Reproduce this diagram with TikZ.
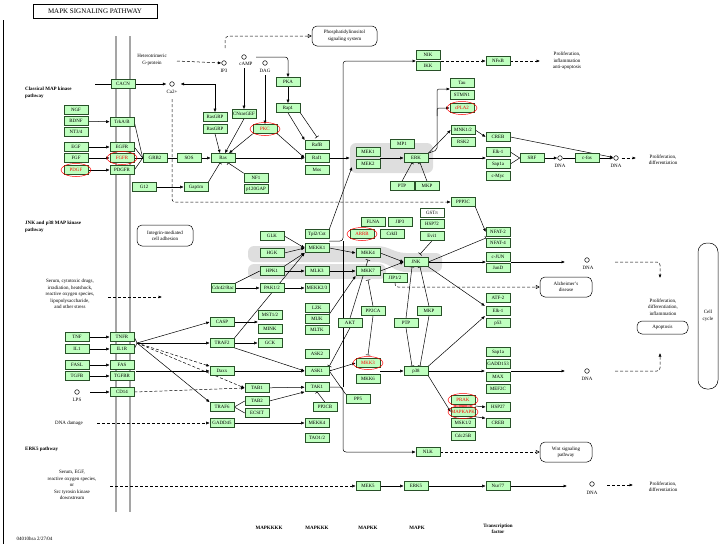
\documentclass[tikz,border=0pt]{standalone}
\usepackage{fontspec}
\setmainfont{Liberation Serif}
\usetikzlibrary{arrows.meta,calc}
\pgfdeclarelayer{bands}
\pgfdeclarelayer{edges}
\pgfsetlayers{bands,edges,main}
\definecolor{kgreen}{RGB}{191,255,191}
\definecolor{kborder}{RGB}{40,80,40}
\definecolor{bandgray}{RGB}{222,222,222}
\definecolor{memgray}{RGB}{165,165,165}
\newcommand\gf{\fontsize{4.9}{5.2}\selectfont}
\newcommand\tf{\fontsize{5}{6.4}\selectfont}
\tikzset{
  gene/.style={draw=kborder, fill=kgreen, line width=0.6pt, minimum width=24pt, minimum height=9pt, inner sep=0pt, font=\gf},
  rgene/.style={gene, text=red},
  wgene/.style={gene, fill=white},
  mol/.style={circle, draw, line width=0.5pt, minimum size=4.6pt, inner sep=0pt},
  txt/.style={font=\tf, align=center, inner sep=0.5pt},
  btxt/.style={font=\tf\bfseries, align=left, inner sep=0pt},
  rbox/.style={draw, line width=0.5pt, rounded corners=5pt, font=\tf, align=center, inner sep=0pt},
  redell/.style={draw=red, line width=0.5pt},
  edge/.style={line width=0.5pt},
  ar/.style={edge, -{Latex[length=3.5pt,width=3pt]}},
  inh/.style={edge, -{Bar[width=4.5pt]}},
  dln/.style={edge, dash pattern=on 3pt off 2pt},
  dar/.style={ar, dash pattern=on 3pt off 2pt},
  oar/.style={edge, dash pattern=on 3pt off 2pt, -{Triangle[open,length=4pt,width=4pt]}},
}
\newcommand\kgn[4][gene]{\node[#1] (#2) at (#3) {#4};}
\begin{document}
\begin{tikzpicture}[x=1pt,y=-1pt]
\useasboundingbox (0,0) rectangle (721,544);
% ---------- frame, title ----------
\draw[line width=0.6pt] (3,20) -- (3,544);
\node[draw, line width=0.7pt, minimum width=124pt, minimum height=14pt, inner sep=0pt, font=\fontsize{7}{8}\selectfont] (title) at (95,11) {MAPK SIGNALING PATHWAY};
% ---------- text labels ----------
\node[btxt, anchor=north west] (lclass) at (25,87) {Classical MAP kinase\\pathway};
\node[btxt, anchor=north west] (ljnk) at (25,221) {JNK and p38 MAP kinase\\pathway};
\node[btxt, anchor=west] (lerk5) at (25,449) {ERK5 pathway};
\node[txt] (hetg) at (152,60) {Heterotrimeric\\G-protein};
\node[txt] (stress) at (70,294) {Serum, cytotoxic drugs,\\irradiation, heatshock,\\reactive oxygen species,\\lipopolysaccharide,\\and other stress};
\node[txt] (serum) at (72,485) {Serum, EGF,\\reactive oxygen species,\\or\\Src tyrosin kinase\\downstream};
\node[txt] (dnadam) at (69,423) {DNA damage};
\node[txt] (prolif0) at (567,61) {Proliferation,\\inflammation\\anti-apoptosis};
\node[txt] (prolif1) at (663,160) {Proliferation,\\differentiation};
\node[txt] (prolif2) at (663,307) {Proliferation,\\differentiation,\\inflammation};
\node[txt] (prolif3) at (663,487) {Proliferation,\\differentiation};
\node[btxt] (lm4) at (269,528) {MAPKKKK};
\node[btxt] (lm3) at (317,528) {MAPKKK};
\node[btxt] (lm2) at (368,528) {MAPKK};
\node[btxt] (lm1) at (417,528) {MAPK};
\node[btxt, align=center] (ltf) at (498,529) {Transcription\\factor};
\node[txt, anchor=west] (mapid) at (16,539) {04010hsa 2/27/04};
% ---------- rounded boxes ----------
\node[rbox, minimum width=65pt, minimum height=20pt] (pis) at (344.5,36) {Phosphatidylinositol\\signaling system};
\node[rbox, minimum width=56pt, minimum height=21pt] (integ) at (165,235.5) {Integrin-mediated\\cell adhesion};
\node[rbox, minimum width=52pt, minimum height=20pt] (alz) at (566,287) {Alzheimer's\\disease};
\node[rbox, minimum width=52pt, minimum height=20pt] (wnt) at (566,452) {Wnt signaling\\pathway};
\node[rbox, minimum width=51pt, minimum height=13pt] (apop) at (662.5,327.5) {Apoptosis};
\node[rbox, rounded corners=9pt, minimum width=20pt, minimum height=146pt] (ccyc) at (708,316) {Cell\\cycle};
% ---------- small molecules ----------
\node[mol] (ip3) at (224,63) {};   \node[txt] (ip3l) at (224,71) {IP3};
\node[mol] (camp) at (244,57) {};  \node[txt] (campl) at (246,64) {cAMP};
\node[mol] (dag) at (265,63) {};   \node[txt] (dagl) at (265,71) {DAG};
\node[mol] (ca) at (172,84) {};    \node[txt] (cal) at (172,92) {Ca2+};
\node[mol] (lps) at (77,392) {};   \node[txt] (lpsl) at (77,400) {LPS};
\node[mol] (dna1) at (560,158) {}; \node[txt] (dna1l) at (560,166) {DNA};
\node[mol] (dna2) at (616,158) {}; \node[txt] (dna2l) at (616,166) {DNA};
\node[mol] (dna3) at (587,260) {}; \node[txt] (dna3l) at (588,268) {DNA};
\node[mol] (dna4) at (587,371) {}; \node[txt] (dna4l) at (587,379) {DNA};
\node[mol] (dna5) at (592,484) {}; \node[txt] (dna5l) at (592,493) {DNA};
% ---------- genes ----------
\kgn{cacn}{123,84}{CACN}
\kgn{ngf}{76,110}{NGF}
\kgn{bdnf}{76,121}{BDNF}
\kgn{nt34}{76,132}{NT3/4}
\kgn{egf}{76,147}{EGF}
\kgn{fgf}{76,158}{FGF}
\kgn[rgene]{pdgf}{76,170}{PDGF}
\kgn{trkab}{122,122}{TrkA/B}
\kgn{egfr}{122,147}{EGFR}
\kgn[rgene]{fgfr}{122,158}{FGFR}
\kgn{pdgfr}{122,170}{PDGFR}
\kgn{grb2}{155,158}{GRB2}
\kgn{sos}{189,158}{SOS}
\kgn{ras}{223,158}{Ras}
\kgn{g12}{144,187}{G12}
\kgn{gap1m}{196,187}{Gap1m}
\kgn{nf1}{256,178}{NF1}
\kgn{p120}{256,189}{p120GAP}
\kgn{rasgrp1}{215,117}{RasGRP}
\kgn{rasgrp2}{215,129}{RasGRP}
\kgn{cnras}{244,114}{CNrasGEF}
\kgn[rgene]{pkc}{265,129}{PKC}
\kgn{pka}{288,82}{PKA}
\kgn{rap1}{288,108}{Rap1}
\kgn{rafb}{317,145}{RafB}
\kgn{raf1}{317,158}{Raf1}
\kgn{mos}{317,170}{Mos}
\kgn{mek1}{368,152}{MEK1}
\kgn{mek2}{368,164}{MEK2}
\kgn{mp1}{402,144}{MP1}
\kgn{erk}{416,158}{ERK}
\kgn{ptpa}{402,186}{PTP}
\kgn{mkpa}{427,186}{MKP}
\kgn{tau}{462,83}{Tau}
\kgn{stmn1}{462,95}{STMN1}
\kgn[rgene]{cpla2}{462,108}{cPLA2}
\kgn{mnk}{463,130}{MNK1/2}
\kgn{rsk2}{463,142}{RSK2}
\kgn{creba}{498,137}{CREB}
\kgn{elka}{498,152}{Elk-1}
\kgn{sapa}{498,164}{Sap1a}
\kgn{cmyc}{498,176}{c-Myc}
\kgn{srf}{532,158}{SRF}
\kgn{cfos}{587,158}{c-fos}
\kgn{nik}{428,55}{NIK}
\kgn{ikk}{428,66}{IKK}
\kgn{nfkb}{498,61}{NFκB}
\kgn{ppp3c}{463,202}{PPP3C}
% JNK / p38
\kgn{cdc42}{223,288}{Cdc42/Rac}
\kgn{glk}{272,236}{GLK}
\kgn{hgk}{272,253}{HGK}
\kgn{hpk1}{272,271}{HPK1}
\kgn{pak}{272,288}{PAK1/2}
\kgn{mst}{270,315}{MST1/2}
\kgn{mink}{270,329}{MINK}
\kgn{gck}{270,343}{GCK}
\kgn{tpl2}{317,234}{Tpl2/Cot}
\kgn{mekk1}{317,248}{MEKK1}
\kgn{mlk3}{317,271}{MLK3}
\kgn{mekk23}{317,288}{MEKK2/3}
\kgn{lzk}{317,308}{LZK}
\kgn{muk}{317,319}{MUK}
\kgn{mltk}{317,330}{MLTK}
\kgn{ask2}{317,354}{ASK2}
\kgn{ask1}{317,371}{ASK1}
\kgn{tak1}{317,387}{TAK1}
\kgn{pp2cb}{325,407}{PP2CB}
\kgn{mekk4}{317,423}{MEKK4}
\kgn{tao}{317,438}{TAO1/2}
\kgn{akt}{350,323}{AKT}
\kgn{pp2ca}{373,311}{PP2CA}
\kgn{flna}{373,222}{FLNA}
\kgn{jip3}{400,222}{JIP3}
\kgn[rgene]{arrb}{362,234}{ARRB}
\kgn{crkii}{392,234}{CrkII}
\kgn[wgene]{gstp}{432,213}{GSTπ}
\kgn{hsp72}{432,224}{HSP72}
\kgn{evi1}{432,236}{Evi1}
\kgn{mkk4}{368,253}{MKK4}
\kgn{mkk7}{368,271}{MKK7}
\kgn{jnk}{416,262}{JNK}
\kgn{jip12}{395,278}{JIP1/2}
\kgn{ptpb}{406,323}{PTP}
\kgn{mkpb}{429,311}{MKP}
\kgn[rgene]{mkk3}{368,363}{MKK3}
\kgn{mkk6}{368,379}{MKK6}
\kgn{p38}{416,371}{p38}
\kgn{pp5}{358,399}{PP5}
\kgn[rgene]{prak}{463,400}{PRAK}
\kgn[rgene]{mapkapk}{463,412}{MAPKAPK}
\kgn{msk}{463,423}{MSK1/2}
\kgn{cdc25b}{463,436}{Cdc25B}
\kgn{hsp27}{498,407}{HSP27}
\kgn{crebb}{498,423}{CREB}
\kgn{nlk}{428,452}{NLK}
\kgn{nfat2}{498,232}{NFAT-2}
\kgn{nfat4}{498,243}{NFAT-4}
\kgn{cjun}{498,257}{c-JUN}
\kgn{jund}{498,268}{JunD}
\kgn{atf2}{498,298}{ATF-2}
\kgn{elkb}{498,311}{Elk-1}
\kgn{p53}{498,323}{p53}
\kgn{sapb}{498,352}{Sap1a}
\kgn{gadd153}{498,364}{GADD153}
\kgn{max}{498,377}{MAX}
\kgn{mef2c}{498,389}{MEF2C}
% receptors lower
\kgn{tnf}{77,337}{TNF}
\kgn{il1}{77,349}{IL1}
\kgn{fasl}{77,365}{FASL}
\kgn{tgfb}{77,376}{TGFB}
\kgn{tnfr}{122,337}{TNFR}
\kgn{il1r}{122,349}{IL1R}
\kgn{fas}{122,365}{FAS}
\kgn{tgfbr}{122,376}{TGFBR}
\kgn{cd14}{122,392}{CD14}
\kgn{casp}{222,322}{CASP}
\kgn{traf2}{222,343}{TRAF2}
\kgn{daxx}{222,371}{Daxx}
\kgn{traf6}{222,407}{TRAF6}
\kgn{gadd45}{222,423}{GADD45}
\kgn{tab1}{257,388}{TAB1}
\kgn{tab2}{257,401}{TAB2}
\kgn{ecsit}{257,413}{ECSIT}
% ERK5
\kgn{mek5}{368,486}{MEK5}
\kgn{erk5}{416,486}{ERK5}
\kgn{nur77}{498,486}{Nur77}
% red ellipses
\foreach \n in {pdgf,fgfr,pkc,cpla2,arrb,mkk3,prak,mapkapk}
  \draw[redell] (\n.center) ellipse (15pt and 6.5pt);
% ---------- background bands and membrane ----------
\begin{pgfonlayer}{bands}
\draw[memgray, line width=2.5pt] (116,36) -- (116,512);
\draw[memgray, line width=2.5pt] (130,36) -- (130,512);
\node[fill=bandgray, rounded corners=6pt, minimum width=83pt, minimum height=30pt, inner sep=0pt] (mekbg) at (391.5,158) {};
\fill[bandgray, rounded corners=6pt] (248,246) -- (383,246) -- (400,253) -- (442,253) -- (442,272) -- (400,272) -- (383,262) -- (248,262) -- cycle;
\fill[bandgray, rounded corners=6pt] (248,264) rectangle (386,279);
\end{pgfonlayer}
% ---------- coordinates ----------
\coordinate (hetgo) at (177,61);
\coordinate (pisup) at (225,48);
\coordinate (cajn) at (215,84);
\coordinate (cacnin) at (95,84);
\coordinate (cadn) at (172,99);
\coordinate (campo) at (256,57);
\coordinate (campd) at (244,68);
\coordinate (dagd) at (265,75);
\coordinate (mekin) at (352,167);
\coordinate (mekout) at (380,158);
\coordinate (erkup) at (437,150);
\coordinate (tsin) at (450,89);
\coordinate (cpbr) at (437,116);
\coordinate (elkin) at (486,158);
\coordinate (p1in) at (636,158);
\coordinate (vj) at (329,241);
\coordinate (nikin) at (416,61);
\coordinate (nikout) at (441,61);
\coordinate (p0in) at (540,61);
\coordinate (nfatin) at (486,238);
\coordinate (junin) at (486,262);
\coordinate (junout) at (511,262);
\coordinate (dna3in) at (565,262);
\coordinate (d3o) at (615,262);
\coordinate (apin1) at (660,278);
\coordinate (gadout) at (511,371);
\coordinate (dna4in) at (565,371);
\coordinate (d4o) at (615,371);
\coordinate (apin2) at (660,353);
\coordinate (atfin) at (485,306);
\coordinate (atfin2) at (485,316);
\coordinate (gadin) at (485,371);
\coordinate (prakout) at (475,406);
\coordinate (serin) at (110,486);
\coordinate (dna5in) at (567,486);
\coordinate (d5o) at (607,485);
\coordinate (p3in) at (633,485);
\coordinate (hub) at (137,343);
\coordinate (fasout) at (136,371);
\coordinate (mstin) at (258,322);
\coordinate (dnadout) at (97,423);
\coordinate (strout) at (108,297);
\coordinate (strin) at (162,297);
\coordinate (lpsout) at (90,392);
\coordinate (mkkout) at (380,371);
% ---------- edges ----------
\begin{pgfonlayer}{edges}
\draw[dar] (hetgo) -- (ip3.west);
\draw[oar, rounded corners=4pt] (pisup) |- (pis.west);
\draw[ar, shorten >=6pt] (cajn) -- (ca);
\draw[ar] (cajn) -- (rasgrp1.north);
\draw[edge] (cacnin) -- (cacn.west);
\draw[ar, shorten >=3pt] (cacn.east) -- (ca);
\draw[dar, rounded corners=3pt] (cadn) |- (ppp3c.west);
\draw[ar, rounded corners=3pt] (campo) -| (pka.north);
\draw[ar] (campd) -- (cnras.north);
\draw[ar] (dagd) -- (pkc.north);
\draw[ar] (pka) -- (rap1);
\draw[ar] (rap1.south) -- (rafb.north west);
\draw[inh] (rap1.south east) -- ([yshift=3pt]rafb.north);
\draw[ar] (pkc.south west) -- ([xshift=6pt]ras.north);
\draw[ar] (pkc.south east) -- (raf1.west);
\draw[ar] (rasgrp2.south) -- ([xshift=-3pt]ras.north);
\draw[ar] (cnras.south) -- ([xshift=2pt]ras.north);
\draw[ar] (bdnf) -- (trkab);
\draw[ar] (egf) -- (egfr);
\draw[ar] (fgf) -- (fgfr);
\draw[ar] (pdgf) -- (pdgfr);
\draw[edge] (trkab.east) -- (grb2.west);
\draw[edge] (egfr.east) -- (grb2.west);
\draw[edge] (fgfr.east) -- (grb2.west);
\draw[edge] (pdgfr.east) -- (grb2.west);
\draw[edge] (grb2) -- (sos);
\draw[ar] (sos) -- (ras);
\draw[ar] (g12) -- (gap1m);
\draw[inh] (gap1m.north east) -- ([xshift=-3pt]ras.south);
\draw[inh] (nf1.north west) -- ([xshift=5pt]ras.south);
\draw[ar] (ras) -- (raf1);
\draw[ar] (raf1) -- (mekbg.west);
\draw[ar] (tpl2.north east) -- (mekin);
\draw[ar] (mekout) -- (erk);
\draw[inh] (ptpa.north) -- ([xshift=-4pt]erk.south);
\draw[inh] (mkpa.north) -- ([xshift=4pt]erk.south);
\draw[ar, rounded corners=2pt] (erk.north east) -- (erkup) |- (tsin);
\draw[ar, rounded corners=2pt] (cpbr) |- (cpla2.west);
\draw[ar] (erk.north east) -- (mnk.west);
\draw[ar] (erk) -- (elkin);
\draw[ar] (mnk.east) -- (creba.west);
\draw[edge] (elka.east) -- (srf.west);
\draw[edge] (sapa.east) -- (srf.west);
\draw[ar] (srf) -- (dna1);
\draw[edge] (dna1) -- (cfos);
\draw[ar] (cfos) -- (dna2);
\draw[ar] (creba.east) -- (dna2);
\draw[dar, shorten <=3pt] (dna2) -- (p1in);
\draw[ar, rounded corners=3pt] (vj) -- (343,241) -- (343,61) -- (nikin);
\draw[edge] (343,241) -- (343,387);
\draw[ar, rounded corners=3pt] (tak1.east) -- (343,387) -- (343,452) -- (nlk.west);
\draw[dar] (nikout) -- (nfkb.west);
\draw[dar] (nfkb.east) -- (p0in);
\draw[ar] (ppp3c.south east) -- (nfat2.west);
\draw[inh] (jnk.east) -- (nfatin);
\draw[ar] (jnk.east) -- (junin);
\draw[ar] (junout) -- (dna3in);
\draw[dar, rounded corners=3pt] (d3o) -| (apin1);
\draw[ar] (gadout) -- (dna4in);
\draw[dar, rounded corners=3pt] (d4o) -| (apin2);
\draw[ar] (jnk.south east) -- (atfin);
\draw[ar] (p38.north east) -- (atfin2);
\draw[ar] (p38.east) -- (gadin);
\draw[ar] (p38.south east) -- (mapkapk.west);
\draw[ar] (prakout) -- (hsp27.west);
\draw[ar] (mapkapk.south east) -- (crebb.north west);
\draw[oar] (nlk.east) -- (wnt.west);
\draw[oar, rounded corners=3pt] (jip12.south) |- (alz.west);
\draw[dar] (serin) -- (mek5);
\draw[ar] (mek5) -- (erk5);
\draw[ar] (erk5) -- (nur77);
\draw[ar] (nur77) -- (dna5in);
\draw[dar] (d5o) -- (p3in);
% JNK cascade
\draw[ar] (glk.east) -- (mekk1.west);
\draw[ar] (hgk.east) -- (mekk1.west);
\draw[ar] (hpk1.north east) -- (mekk1.south west);
\draw[ar] (traf2.north east) -- (mekk1.south west);
\draw[ar] (hpk1) -- (mlk3);
\draw[ar] (pak) -- (mekk23);
\draw[ar] (cdc42.east) -- (pak.west);
\draw[edge] (cdc42.north east) -- (hpk1.west);
\draw[ar] (mekk1.east) -- (mkk4.west);
\draw[ar] (mlk3) -- (mkk7);
\draw[ar] (muk.north east) -- (mkk7.south west);
\draw[inh] (akt.north) -- ([yshift=-2pt]mkk4.south);
\draw[inh] (akt.south) -- (ask1.north east);
\draw[inh] (pp2ca.north) -- ([yshift=-4pt]mkk7.south);
\draw[inh] (pp2ca.south) -- ([yshift=3pt]mkk3.north);
\draw[ar] (mkk4.east) -- (jnk.west);
\draw[ar] (mkk7.east) -- (jnk.west);
\draw[inh] (evi1.south) -- ([xshift=4pt,yshift=3pt]jnk.north);
\draw[inh] (ptpb.north) -- ([xshift=-4pt]jnk.south);
\draw[inh] (mkpb.north) -- ([xshift=4pt]jnk.south);
\draw[inh] (ptpb.south) -- ([xshift=-4pt]p38.north);
\draw[inh] (mkpb.south) -- ([xshift=4pt]p38.north);
\draw[ar] (ask1.east) -- (mkk3.west);
\draw[ar] (mkkout) -- (p38.west);
\draw[inh] (pp5.north west) -- (ask1.east);
\draw[inh] (pp2cb.north) -- (tak1.south);
\draw[ar] (tab1) -- (tak1);
\draw[ar] (tab2.east) -- (tak1.south west);
\draw[edge] (traf6.east) -- (tab2.west);
\draw[edge] (traf6.east) -- (ecsit.west);
\draw[edge] (tnfr.east) -- (hub);
\draw[edge] (il1r.east) -- (hub);
\draw[ar] (hub) -- (casp.west);
\draw[ar] (hub) -- (traf2.west);
\draw[dar] (hub) -- (daxx.north west);
\draw[dar] (hub) -- (tab1.west);
\draw[ar] (hub) -- (traf6.north west);
\draw[ar] (fasout) -- (daxx.west);
\draw[dar] (cd14.east) -- (tab1.west);
\draw[ar] (casp.east) -- (mstin);
\draw[ar] (traf2.east) -- (gck.west);
\draw[ar] (traf2.south east) -- (ask1.west);
\draw[ar] (daxx) -- (ask1);
\draw[ar] (gadd45) -- (mekk4);
\draw[dar] (dnadout) -- (gadd45);
\draw[dar] (strout) -- (strin);
\draw[ar] (tnf) -- (tnfr);
\draw[ar] (il1) -- (il1r);
\draw[ar] (fasl) -- (fas);
\draw[ar] (tgfb) -- (tgfbr);
\draw[ar] (lpsout) -- (cd14);
\end{pgfonlayer}
\end{tikzpicture}
\end{document}
